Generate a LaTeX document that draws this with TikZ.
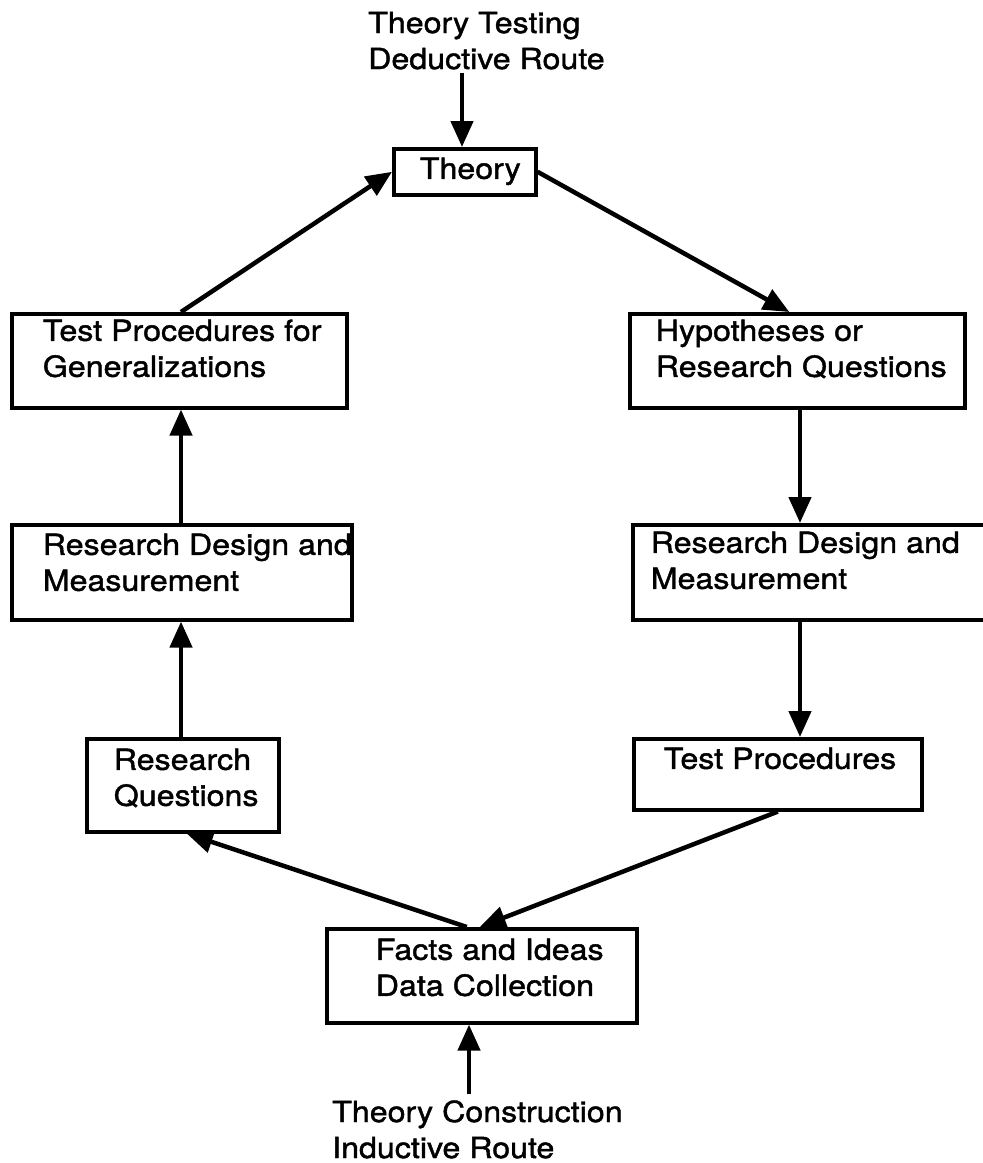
\documentclass[tikz,border=0pt]{standalone}
\usepackage{fontspec}
\setmainfont{TeX Gyre Heros}[FakeStretch=1.11,FakeBold=1.4]
\usetikzlibrary{arrows.meta}

% box contents: width, height, left pad, first baseline from top, text
\newcommand{\boxtext}[5]{\parbox[c][#2][t]{#1}{\raggedright\leftskip=#3\relax\rule{0pt}{#4}#5}}
% free label, first baseline at the node's base
\newcommand{\labeltext}[1]{\parbox[t]{340pt}{\raggedright #1}}

\begin{document}
\begin{tikzpicture}[x=1pt,y=-1pt,
  every node/.style={font=\fontsize{29}{36}\selectfont},
  stage/.style={draw, line width=3.6pt, inner sep=0pt, anchor=north west},
  route/.style={inner sep=0pt, anchor=base west},
  arr/.style={line width=4.5pt, -{Triangle[length=26pt,width=22pt]}}]

\useasboundingbox (0,0) rectangle (983,1163);

% vertical axes of the straight connectors
\coordinate (tax) at (462,0);
\coordinate (bax) at (469,0);
\coordinate (lax) at (181,0);
\coordinate (rax) at (800,0);

% route labels
\node[route] (lblT) at (368,33) {\labeltext{Theory Testing\\Deductive Route}};
\node[route] (lblB) at (332,1122) {\labeltext{Theory Construction\\Inductive Route}};

% stages
\node[stage] (thy)   at (392,147) {\boxtext{142pt}{46pt}{26pt}{30pt}{Theory}};
\node[stage] (hyp)   at (628,312) {\boxtext{335pt}{94pt}{26pt}{27pt}{Hypotheses or\\Research Questions}};
\node[stage] (rrd)   at (631,523) {\boxtext{361pt}{95pt}{18pt}{28pt}{Research Design and\\Measurement}};
\node[stage] (tp)    at (632,737) {\boxtext{288pt}{71pt}{30pt}{30pt}{Test Procedures}};
\node[stage] (facts) at (325,927) {\boxtext{310pt}{94pt}{49pt}{31pt}{Facts and Ideas\\Data Collection}};
\node[stage] (rq)    at (85,737)  {\boxtext{192pt}{93pt}{27pt}{31pt}{Research\\Questions}};
\node[stage] (lrd)   at (10,523)  {\boxtext{340pt}{95pt}{31pt}{30pt}{Research Design and\\Measurement}};
\node[stage] (tpg)   at (10,312)  {\boxtext{335pt}{94pt}{31pt}{27pt}{Test Procedures for\\Generalizations}};

% deductive side
\draw[arr] ([yshift=-3pt]lblT.south -| tax) -- (thy.north -| tax);
\draw[arr] (thy.east) -- ([xshift=-8pt]hyp.north);
\draw[arr] (hyp.south -| rax) -- (rrd.north -| rax);
\draw[arr] (rrd.south -| rax) -- (tp.north -| rax);
\draw[arr] (tp.south) -- ([xshift=-2pt]facts.north);

% inductive side
\draw[arr] ([yshift=6pt]lblB.north -| bax) -- (facts.south -| bax);
\draw[arr] ([xshift=-15pt]facts.north) -- ([xshift=4pt]rq.south);
\draw[arr] (rq.north -| lax) -- (lrd.south -| lax);
\draw[arr] (lrd.north -| lax) -- (tpg.south -| lax);
\draw[arr] (tpg.north -| lax) -- (thy.west);

\end{tikzpicture}
\end{document}
